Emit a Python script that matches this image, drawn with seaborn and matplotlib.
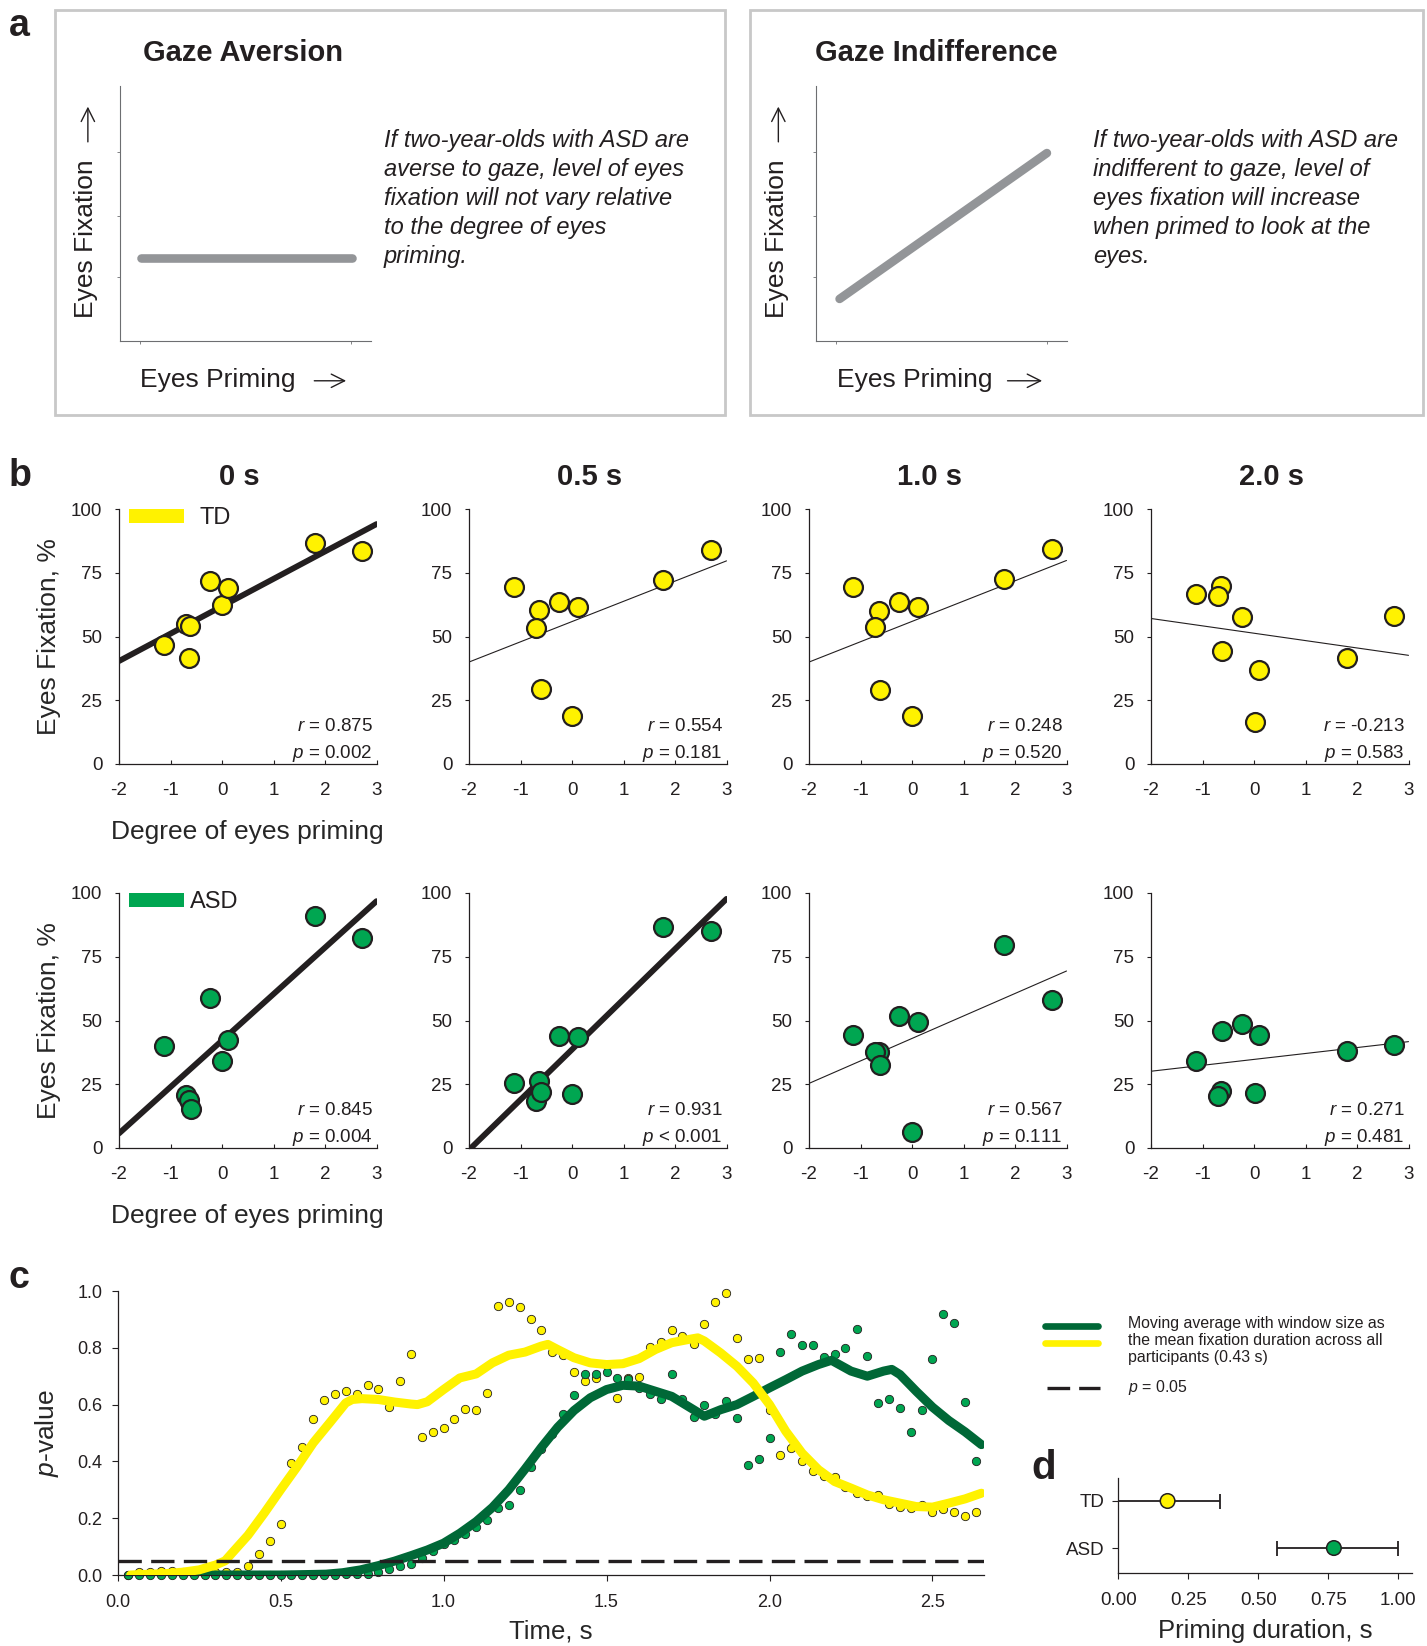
import matplotlib
matplotlib.use('Agg')
import matplotlib.pyplot as plt
from matplotlib.lines import Line2D
from matplotlib.patches import Patch, Rectangle
import seaborn as sns

# ---------------- data ----------------
# panel a: hypothetical lines (axes fraction)
aversion_priming = [0.085, 0.925]
aversion_fixation = [0.325, 0.325]
indifference_priming = [0.094, 0.92]
indifference_fixation = [0.165, 0.737]

# panel b: degree of eyes priming (x) vs eyes fixation % (y)
priming_labels = ['0 s', '0.5 s', '1.0 s', '2.0 s']

td_x_0s = [-1.12, -0.70, -0.62, -0.645, -0.23, 0.0, 0.125, 1.80, 2.72]
td_y_0s = [46.8, 54.9, 54.3, 41.7, 71.7, 62.2, 68.9, 86.8, 83.7]
td_x_05s = [-1.13, -0.64, -0.70, -0.60, -0.25, 0.125, 0.0, 1.77, 2.70]
td_y_05s = [69.4, 60.2, 53.5, 29.3, 63.4, 61.7, 19.0, 72.3, 84.0]
td_x_1s = [-1.15, -0.64, -0.71, -0.62, -0.25, 0.11, 0.0, 1.78, 2.71]
td_y_1s = [69.3, 60.0, 53.6, 29.1, 63.7, 61.7, 18.9, 72.4, 84.3]
td_x_2s = [-1.13, -0.64, -0.69, -0.23, -0.62, 0.106, 0.018, 1.80, 2.72]
td_y_2s = [66.8, 70.0, 65.9, 57.6, 44.5, 36.7, 16.6, 41.7, 57.9]

asd_x_0s = [-1.12, -0.70, -0.64, -0.61, -0.23, 0.0, 0.125, 1.80, 2.72]
asd_y_0s = [40.1, 20.8, 19.0, 15.4, 58.9, 34.2, 42.4, 90.8, 82.2]
asd_x_05s = [-1.13, -0.64, -0.70, -0.60, -0.25, 0.125, 0.0, 1.77, 2.70]
asd_y_05s = [25.5, 26.3, 18.6, 21.9, 44.0, 43.6, 21.0, 86.6, 85.2]
asd_x_1s = [-1.15, -0.64, -0.71, -0.62, -0.25, 0.11, 0.0, 1.78, 2.71]
asd_y_1s = [44.4, 37.8, 37.6, 32.6, 51.8, 49.3, 6.3, 79.8, 57.9]
asd_x_2s = [-1.13, -0.62, -0.23, 0.106, -0.64, -0.69, 0.018, 1.80, 2.72]
asd_y_2s = [34.0, 46.0, 48.8, 44.2, 22.2, 20.5, 21.6, 38.0, 40.5]

td_r = ['0.875', '0.554', '0.248', '-0.213']
td_p = ['= 0.002', '= 0.181', '= 0.520', '= 0.583']
td_sig = [True, False, False, False]
asd_r = ['0.845', '0.931', '0.567', '0.271']
asd_p = ['= 0.004', '< 0.001', '= 0.111', '= 0.481']
asd_sig = [True, True, False, False]

# panel c: p-value over time
time_s = [0.033, 0.067, 0.100, 0.133, 0.167, 0.200, 0.233, 0.267, 0.300, 0.333,
          0.367, 0.400, 0.433, 0.467, 0.500, 0.533, 0.567, 0.600, 0.633, 0.667,
          0.700, 0.733, 0.767, 0.800, 0.833, 0.867, 0.900, 0.933, 0.967, 1.000,
          1.033, 1.067, 1.100, 1.133, 1.167, 1.200, 1.233, 1.267, 1.300, 1.333,
          1.367, 1.400, 1.433, 1.467, 1.500, 1.533, 1.567, 1.600, 1.633, 1.667,
          1.700, 1.733, 1.767, 1.800, 1.833, 1.867, 1.900, 1.933, 1.967, 2.000,
          2.033, 2.067, 2.100, 2.133, 2.167, 2.200, 2.233, 2.267, 2.300, 2.333,
          2.367, 2.400, 2.433, 2.467, 2.500, 2.533, 2.567, 2.600, 2.633]
td_pvalue = [0.0, 0.01, 0.012, 0.013, 0.013, 0.012, 0.01, 0.01, 0.01, 0.009,
             0.011, 0.03, 0.073, 0.121, 0.18, 0.396, 0.45, 0.549, 0.615, 0.639,
             0.647, 0.638, 0.669, 0.654, 0.59, 0.682, 0.779, 0.486, 0.502, 0.519,
             0.548, 0.585, 0.582, 0.64, 0.946, 0.96, 0.942, 0.901, 0.864, 0.786,
             0.775, 0.715, 0.682, 0.693, 0.74, 0.624, 0.693, 0.698, 0.804, 0.821,
             0.861, 0.841, 0.814, 0.885, 0.96, 0.994, 0.835, 0.76, 0.765, 0.582,
             0.422, 0.447, 0.401, 0.366, 0.349, 0.345, 0.309, 0.289, 0.279, 0.282,
             0.249, 0.241, 0.236, 0.247, 0.221, 0.231, 0.221, 0.206, 0.221]
asd_pvalue = [0.0, 0.0, 0.0, 0.0, 0.0, 0.0, 0.0, 0.0, 0.0, 0.0,
              0.0, 0.0, 0.0, 0.0, 0.0, 0.001, 0.001, 0.001, 0.0, 0.001,
              0.002, 0.003, 0.005, 0.012, 0.02, 0.033, 0.04, 0.061, 0.085, 0.108,
              0.124, 0.145, 0.168, 0.193, 0.236, 0.247, 0.301, 0.382, 0.445, 0.496,
              0.567, 0.633, 0.709, 0.709, 0.715, 0.693, 0.69, 0.66, 0.638, 0.618,
              0.709, 0.618, 0.556, 0.60, 0.568, 0.614, 0.553, 0.386, 0.408, 0.482,
              0.784, 0.847, 0.809, 0.809, 0.766, 0.779, 0.80, 0.865, 0.772, 0.604,
              0.619, 0.588, 0.502, 0.58, 0.761, 0.92, 0.887, 0.608, 0.40]

td_ma_time = [0.04, 0.10, 0.15, 0.20, 0.25, 0.30, 0.33, 0.35, 0.40, 0.45,
              0.50, 0.55, 0.60, 0.65, 0.70, 0.72, 0.75, 0.80, 0.85, 0.90,
              0.92, 0.95, 1.00, 1.05, 1.10, 1.15, 1.20, 1.25, 1.30, 1.32,
              1.35, 1.40, 1.45, 1.50, 1.55, 1.60, 1.65, 1.70, 1.75, 1.78,
              1.80, 1.85, 1.90, 1.95, 2.00, 2.05, 2.10, 2.15, 2.20, 2.25,
              2.30, 2.35, 2.40, 2.45, 2.50, 2.55, 2.60, 2.65]
td_ma = [0.0, 0.003, 0.005, 0.01, 0.018, 0.035, 0.05, 0.076, 0.14, 0.218,
         0.30, 0.38, 0.465, 0.535, 0.606, 0.618, 0.621, 0.618, 0.609, 0.602,
         0.60, 0.61, 0.653, 0.694, 0.708, 0.747, 0.774, 0.785, 0.806, 0.812,
         0.794, 0.765, 0.747, 0.741, 0.744, 0.762, 0.794, 0.818, 0.829, 0.835,
         0.824, 0.782, 0.735, 0.676, 0.60, 0.506, 0.429, 0.371, 0.329, 0.306,
         0.282, 0.265, 0.253, 0.241, 0.239, 0.253, 0.268, 0.288]
asd_ma_time = [0.18, 0.25, 0.30, 0.35, 0.40, 0.45, 0.50, 0.55, 0.60, 0.64,
               0.69, 0.745, 0.80, 0.85, 0.90, 0.95, 1.00, 1.05, 1.10, 1.15,
               1.20, 1.25, 1.30, 1.35, 1.40, 1.45, 1.50, 1.55, 1.60, 1.65,
               1.70, 1.75, 1.80, 1.85, 1.90, 1.95, 2.00, 2.05, 2.10, 2.15,
               2.19, 2.25, 2.30, 2.35, 2.375, 2.40, 2.45, 2.50, 2.55, 2.60,
               2.65]
asd_ma = [0.0, 0.0, 0.0, 0.0, 0.0, 0.0, 0.0, 0.001, 0.002, 0.003,
          0.008, 0.018, 0.033, 0.049, 0.068, 0.088, 0.112, 0.147, 0.188, 0.238,
          0.30, 0.373, 0.449, 0.52, 0.579, 0.624, 0.653, 0.668, 0.665, 0.647,
          0.629, 0.594, 0.559, 0.582, 0.60, 0.629, 0.659, 0.688, 0.718, 0.741,
          0.756, 0.718, 0.70, 0.718, 0.724, 0.706, 0.647, 0.591, 0.544, 0.504,
          0.459]
p_threshold = 0.05

# panel d: priming duration
groups = ['TD', 'ASD']
priming_mean = [0.176, 0.77]
priming_lo = [0.0, 0.567]
priming_hi = [0.365, 1.0]

# ---------------- style ----------------
yellow = '#FFF200'
green_dot = '#00A651'
green_line = '#006837'
dark = '#231F20'
grey_line = '#939598'

sns.set_style('ticks')
plt.rcParams['font.family'] = ['Liberation Sans', 'DejaVu Sans']
plt.rcParams['mathtext.fontset'] = 'custom'
plt.rcParams['mathtext.it'] = 'Liberation Sans:italic'
plt.rcParams['mathtext.rm'] = 'Liberation Sans'
plt.rcParams['axes.unicode_minus'] = False
plt.rcParams['axes.linewidth'] = 0.9
plt.rcParams['axes.edgecolor'] = dark
plt.rcParams['xtick.color'] = dark
plt.rcParams['ytick.color'] = dark
plt.rcParams['text.color'] = dark

W, H = 1427, 1646
fig = plt.figure(figsize=(W / 100, H / 100), dpi=100)


def box(l, t, r, b):
    return [l / W, 1 - b / H, (r - l) / W, (b - t) / H]


# ---------------- panel a ----------------
fig.text(9 / W, 1 - 36 / H, 'a', fontsize=27, fontweight='bold', va='baseline')
for l in [55, 750]:
    fig.add_artist(Rectangle((l / W, 1 - 415 / H), (673 if l == 750 else 670) / W, 405 / H,
                             transform=fig.transFigure, fill=False,
                             edgecolor='#c8c8c8', lw=2))

panel_a = [
    (120, 'Gaze Aversion', 0.09, aversion_priming, aversion_fixation,
     'If two-year-olds with ASD are\naverse to gaze, level of eyes\nfixation will not vary relative\n'
     'to the degree of eyes\npriming.', 1.05, -0.134, 0.08, (0.763, 0.912)),
    (816, 'Gaze Indifference', -0.004, indifference_priming, indifference_fixation,
     'If two-year-olds with ASD are\nindifferent to gaze, level of\neyes fixation will increase\n'
     'when primed to look at the\neyes.', 1.104, -0.156, 0.084, (0.752, 0.912)),
]
for l, title, tx, xs, ys, txt, ix, lx, px, parrow in panel_a:
    ax = fig.add_axes(box(l, 86, l + 251, 341))
    sns.lineplot(x=xs, y=ys, ax=ax, color=grey_line, lw=6.2, solid_capstyle='round')
    ax.set_xlim(0, 1)
    ax.set_ylim(0, 1)
    sns.despine(ax=ax)
    for s in ['left', 'bottom']:
        ax.spines[s].set_color('#6d6e71')
        ax.spines[s].set_linewidth(0.8)
    ax.set_xticks([0.08, 0.92])
    ax.set_yticks([0.25, 0.49, 0.74])
    ax.set_xticklabels([])
    ax.set_yticklabels([])
    ax.tick_params(length=2, width=0.6, color='#6d6e71')
    ax.text(tx, 1.129, title, transform=ax.transAxes, fontsize=21, fontweight='bold',
            ha='left', va='center')
    ax.text(lx, 0.40, 'Eyes Fixation', transform=ax.transAxes, rotation=90,
            fontsize=19, ha='center', va='center')
    ax.annotate('', xy=(lx + 0.006, 0.93), xytext=(lx + 0.006, 0.77),
                xycoords='axes fraction',
                arrowprops=dict(arrowstyle='->', lw=1, color=dark, mutation_scale=24))
    ax.text(px, -0.153, 'Eyes Priming', transform=ax.transAxes, fontsize=19,
            ha='left', va='center')
    ax.annotate('', xy=(parrow[1], -0.156), xytext=(parrow[0], -0.156),
                xycoords='axes fraction',
                arrowprops=dict(arrowstyle='->', lw=1, color=dark, mutation_scale=24))
    ax.text(ix, 0.558, txt, transform=ax.transAxes, fontsize=17, style='italic',
            ha='left', va='center', linespacing=1.33)

# ---------------- panel b ----------------
fig.text(9 / W, 1 - 486 / H, 'b', fontsize=27, fontweight='bold', va='baseline')
td_panels = [(td_x_0s, td_y_0s), (td_x_05s, td_y_05s), (td_x_1s, td_y_1s), (td_x_2s, td_y_2s)]
asd_panels = [(asd_x_0s, asd_y_0s), (asd_x_05s, asd_y_05s), (asd_x_1s, asd_y_1s), (asd_x_2s, asd_y_2s)]
cols_left = [119, 469, 809, 1151]
rows = [(509, 764, 'TD', yellow, td_panels, td_r, td_p, td_sig, 0.66),
        (893, 1148, 'ASD', green_dot, asd_panels, asd_r, asd_p, asd_sig, 0.28)]

for ri, (top, bot, grp, fill, panels, rs, ps, sigs, textpad) in enumerate(rows):
    for ci, cl in enumerate(cols_left):
        xs, ys = panels[ci]
        ax = fig.add_axes(box(cl, top, cl + 257.5, bot))
        ax.set_xlim(-2, 3)
        ax.set_ylim(0, 100)
        sns.regplot(x=xs, y=ys, ax=ax, scatter=False, ci=None, truncate=False,
                    color=dark, line_kws=dict(lw=4.2 if sigs[ci] else 0.8,
                                              solid_capstyle='round'))
        sns.scatterplot(x=xs, y=ys, ax=ax, color=fill, edgecolor=dark, linewidth=1.6,
                        s=185, zorder=3, legend=False)
        ax.set_xlim(-2, 3)
        ax.set_ylim(0, 100)
        sns.despine(ax=ax)
        ax.set_xticks([-2, -1, 0, 1, 2, 3])
        ax.set_yticks([0, 25, 50, 75, 100])
        ax.tick_params(axis='y', direction='out', length=3, width=0.8, pad=9, labelsize=13.5)
        ax.tick_params(axis='x', direction='in', length=3, width=0.8, pad=13, labelsize=13.5)
        ax.text(0.985, 0.13, rf'$r$ = {rs[ci]}', transform=ax.transAxes,
                ha='right', va='baseline', fontsize=13.5)
        ax.text(0.985, 0.024, rf'$p$ {ps[ci]}', transform=ax.transAxes,
                ha='right', va='baseline', fontsize=13.5)
        if ri == 0:
            ax.set_title(priming_labels[ci], fontsize=21, fontweight='bold', pad=17, x=0.467)
        if ci == 0:
            ax.set_ylabel('Eyes Fixation, %', fontsize=19, labelpad=7)
            ax.set_xlabel('Degree of eyes priming', fontsize=19, labelpad=15)
            ax.legend(handles=[Patch(facecolor=fill, edgecolor='none')], labels=[grp],
                      loc='upper left', bbox_to_anchor=(0.039, 1.008), frameon=False,
                      fontsize=17, handlelength=2.31, handleheight=0.525,
                      handletextpad=textpad, borderpad=0, borderaxespad=0)

# ---------------- panel c ----------------
fig.text(9 / W, 1 - 1288 / H, 'c', fontsize=27, fontweight='bold', va='baseline')
ax = fig.add_axes(box(117.6, 1291, 984, 1575))
sns.scatterplot(x=time_s, y=td_pvalue, ax=ax, color=yellow, edgecolor=dark,
                linewidth=0.6, s=36, clip_on=False, zorder=2, legend=False)
sns.scatterplot(x=time_s, y=asd_pvalue, ax=ax, color=green_dot, edgecolor=dark,
                linewidth=0.6, s=36, clip_on=False, zorder=2, legend=False)
sns.lineplot(x=asd_ma_time, y=asd_ma, ax=ax, color=green_line, lw=6.5,
             solid_capstyle='round', sort=False, zorder=3)
sns.lineplot(x=td_ma_time, y=td_ma, ax=ax, color=yellow, lw=6.5,
             solid_capstyle='round', sort=False, zorder=4)
ax.axhline(p_threshold, color=dark, lw=2.4, dashes=(7, 2.8), zorder=5)
ax.set_xlim(0, 2.658)
ax.set_ylim(0, 1.0)
ax.set_xticks([0, 0.5, 1.0, 1.5, 2.0, 2.5])
ax.set_xticklabels(['0.0', '0.5', '1.0', '1.5', '2.0', '2.5'])
ax.set_yticks([0, 0.2, 0.4, 0.6, 0.8, 1.0])
ax.set_yticklabels(['0.0', '0.2', '0.4', '0.6', '0.8', '1.0'])
sns.despine(ax=ax)
ax.tick_params(axis='x', length=4, width=0.8, pad=10, labelsize=13)
ax.tick_params(axis='y', length=4, width=0.8, pad=7, labelsize=13)
ax.set_ylabel(r'$p$-value', fontsize=19, labelpad=12)
ax.set_xlabel('Time, s', fontsize=18.5, labelpad=6)

# legend of panel c
fig.add_artist(Line2D([1045 / W, 1098 / W], [1 - 1325.7 / H] * 2, color=green_line,
                      lw=4.8, solid_capstyle='round'))
fig.add_artist(Line2D([1045 / W, 1098 / W], [1 - 1342.7 / H] * 2, color=yellow,
                      lw=4.8, solid_capstyle='round'))
fig.add_artist(Line2D([1046.7 / W, 1100 / W], [1 - 1388.3 / H] * 2, color=dark,
                      lw=2.4, dashes=(6.8, 2.7)))
fig.text(1128.3 / W, 1 - 1340.6 / H,
         'Moving average with window size as\nthe mean fixation duration across all\n'
         'participants (0.43 s)', fontsize=11.4, va='center', ha='left', linespacing=1.2)
fig.text(1128.3 / W, 1 - 1387.7 / H, r'$p$ = 0.05', fontsize=11.4, va='center', ha='left')

# ---------------- panel d ----------------
fig.text(1031 / W, 1 - 1479 / H, 'd', fontsize=29, fontweight='bold', va='baseline')
ax = fig.add_axes(box(1118.3, 1478, 1412, 1573))
xerr = [[m - lo for m, lo in zip(priming_mean, priming_lo)],
        [hi - m for m, hi in zip(priming_mean, priming_hi)]]
ax.errorbar(x=priming_mean, y=groups, xerr=xerr, fmt='none', ecolor=dark,
            elinewidth=1.3, capsize=5.4, capthick=1.3, zorder=2)
sns.scatterplot(x=priming_mean, y=groups, hue=groups, palette=[yellow, green_dot], ax=ax,
                edgecolor=dark, linewidth=1.1, s=110, legend=False, zorder=3)
ax.set_xlim(0, 1.049)
ax.set_ylim(1.531, -0.489)
ax.set_xticks([0, 0.25, 0.5, 0.75, 1.0])
ax.set_xticklabels(['0.00', '0.25', '0.50', '0.75', '1.00'])
sns.despine(ax=ax)
ax.tick_params(axis='x', length=4, width=0.8, pad=10, labelsize=13.5)
ax.tick_params(axis='y', length=4, width=0.8, pad=6, labelsize=13.5)
ax.set_ylabel('')
ax.set_xlabel('Priming duration, s', fontsize=18.5, labelpad=7)

plt.savefig('out.png', dpi=100)
